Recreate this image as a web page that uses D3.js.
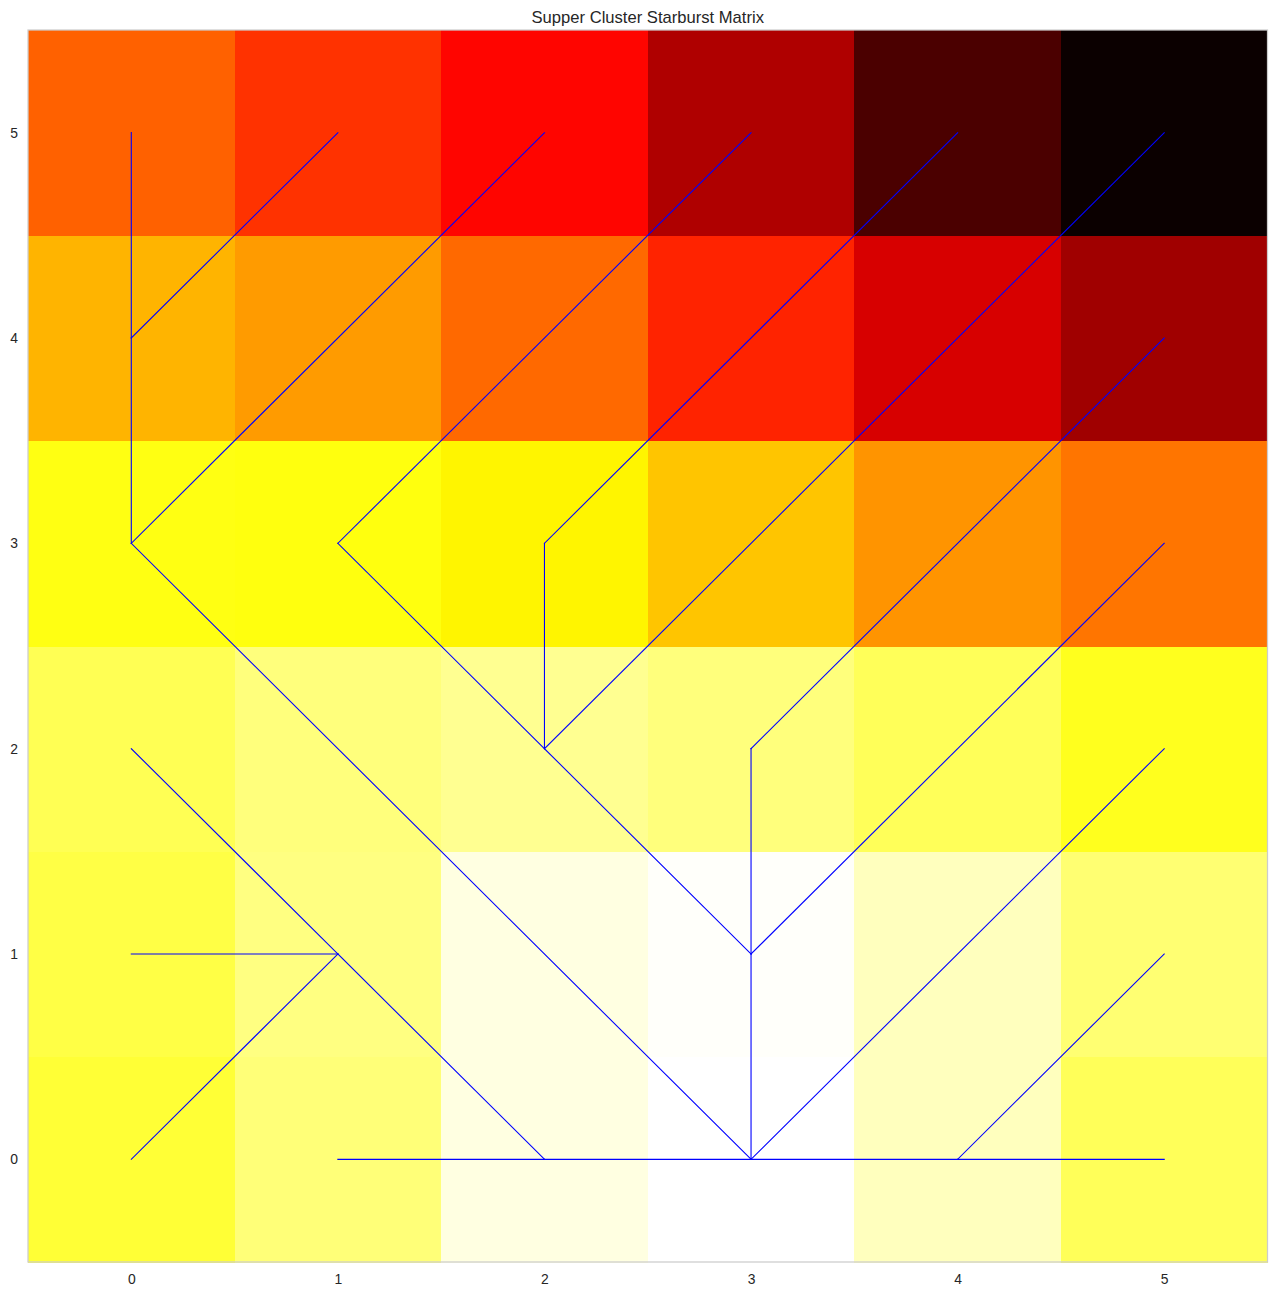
<!DOCTYPE html>
<html>
<head>
<meta charset="utf-8">
<script src="https://cdn.jsdelivr.net/npm/d3@7"></script>
<style>
  html, body { margin: 0; padding: 0; background: #ffffff; }
  svg { display: block; }
  text { font-family: "Liberation Sans", Arial, "DejaVu Sans", sans-serif; fill: #262626; }
</style>
</head>
<body>
<svg id="chart" width="1277" height="1296"></svg>
<script>
// ---------- data ----------
const title = "Supper Cluster Starburst Matrix";
const xTicks = [0, 1, 2, 3, 4, 5];
const yTicks = [0, 1, 2, 3, 4, 5];

// heat values per row, row index = y value (0 at bottom)
const row0 = [0.200, 0.134, 0.030, 0.000, 0.065, 0.165];
const row1 = [0.185, 0.125, 0.030, 0.005, 0.065, 0.140];
const row2 = [0.170, 0.130, 0.110, 0.130, 0.165, 0.224];
const row3 = [0.236, 0.240, 0.269, 0.340, 0.414, 0.460];
const row4 = [0.366, 0.403, 0.478, 0.583, 0.694, 0.777];
const row5 = [0.490, 0.560, 0.627, 0.754, 0.904, 1.000];
const heatRows = [row0, row1, row2, row3, row4, row5];

// tree edges between grid nodes: [x1, y1, x2, y2]
const edges = [
  [0, 5, 0, 4], [0, 4, 0, 3], [0, 4, 1, 5],
  [0, 3, 2, 5], [0, 3, 3, 0],
  [1, 3, 3, 5], [1, 3, 2, 2], [2, 2, 3, 1],
  [2, 3, 2, 2], [2, 3, 4, 5], [2, 2, 5, 5],
  [3, 2, 3, 1], [3, 2, 5, 4], [3, 1, 5, 3], [3, 1, 3, 0],
  [3, 0, 5, 2], [4, 0, 5, 1],
  [1, 0, 2, 0], [2, 0, 3, 0], [3, 0, 4, 0], [4, 0, 5, 0],
  [0, 2, 1, 1], [1, 1, 2, 0], [0, 1, 1, 1], [0, 0, 1, 1]
];

// ---------- colormap (matplotlib "hot", reversed) ----------
function hot(t) {
  t = Math.max(0, Math.min(1, t));
  const r = t < 0.365079 ? 0.0416 + (1 - 0.0416) * t / 0.365079 : 1;
  const g = t < 0.365079 ? 0 : (t < 0.746032 ? (t - 0.365079) / (0.746032 - 0.365079) : 1);
  const b = t < 0.746032 ? 0 : (t - 0.746032) / (1 - 0.746032);
  return d3.rgb(Math.round(r * 255), Math.round(g * 255), Math.round(b * 255)).toString();
}
const hotR = t => hot(1 - t);

// ---------- layout ----------
const svg = d3.select("#chart");
const L = 28, R = 1267.5, T = 30, B = 1262;

const x = d3.scaleLinear().domain([-0.5, 5.5]).range([L, R]);
const y = d3.scaleLinear().domain([-0.5, 5.5]).range([B, T]);

const cells = [];
heatRows.forEach((row, yi) => row.forEach((v, xi) => cells.push({ x: xTicks[xi], y: yTicks[yi], v })));
const allVals = cells.map(d => d.v);
const color = d3.scaleSequential(hotR).domain([d3.min(allVals), d3.max(allVals)]);

svg.append("g").selectAll("rect").data(cells).join("rect")
  .attr("x", d => x(d.x - 0.5))
  .attr("y", d => y(d.y + 0.5))
  .attr("width", d => x(d.x + 0.5) - x(d.x - 0.5) + 0.5)
  .attr("height", d => y(d.y - 0.5) - y(d.y + 0.5) + 0.5)
  .attr("fill", d => color(d.v))
  .attr("shape-rendering", "crispEdges");

svg.append("g").selectAll("line").data(edges).join("line")
  .attr("x1", d => x(d[0])).attr("y1", d => y(d[1]))
  .attr("x2", d => x(d[2])).attr("y2", d => y(d[3]))
  .attr("stroke", "#0000ff")
  .attr("stroke-width", 1.1)
  .attr("stroke-linecap", "square");

// frame
svg.append("rect")
  .attr("x", L).attr("y", T).attr("width", R - L).attr("height", B - T)
  .attr("fill", "none").attr("stroke", "#cccccc").attr("stroke-width", 1.25);

// axes
const xAxis = d3.axisBottom(x).tickValues(xTicks).tickSize(0).tickPadding(12).tickFormat(d3.format("d"));
const gx = svg.append("g").attr("transform", `translate(0,${B})`).call(xAxis);
gx.select(".domain").remove();
gx.selectAll("text").attr("font-size", "13.9px").attr("fill", "#262626")
  .style("font-family", '"Liberation Sans", Arial, sans-serif');

const yAxis = d3.axisLeft(y).tickValues(yTicks).tickSize(0).tickPadding(10).tickFormat(d3.format("d"));
const gy = svg.append("g").attr("transform", `translate(${L},0)`).call(yAxis);
gy.select(".domain").remove();
gy.selectAll("text").attr("font-size", "13.9px").attr("fill", "#262626")
  .style("font-family", '"Liberation Sans", Arial, sans-serif');

// title
svg.append("text")
  .attr("x", (L + R) / 2).attr("y", 22.5)
  .attr("text-anchor", "middle")
  .attr("font-size", "16.6px")
  .text(title);
</script>
</body>
</html>
